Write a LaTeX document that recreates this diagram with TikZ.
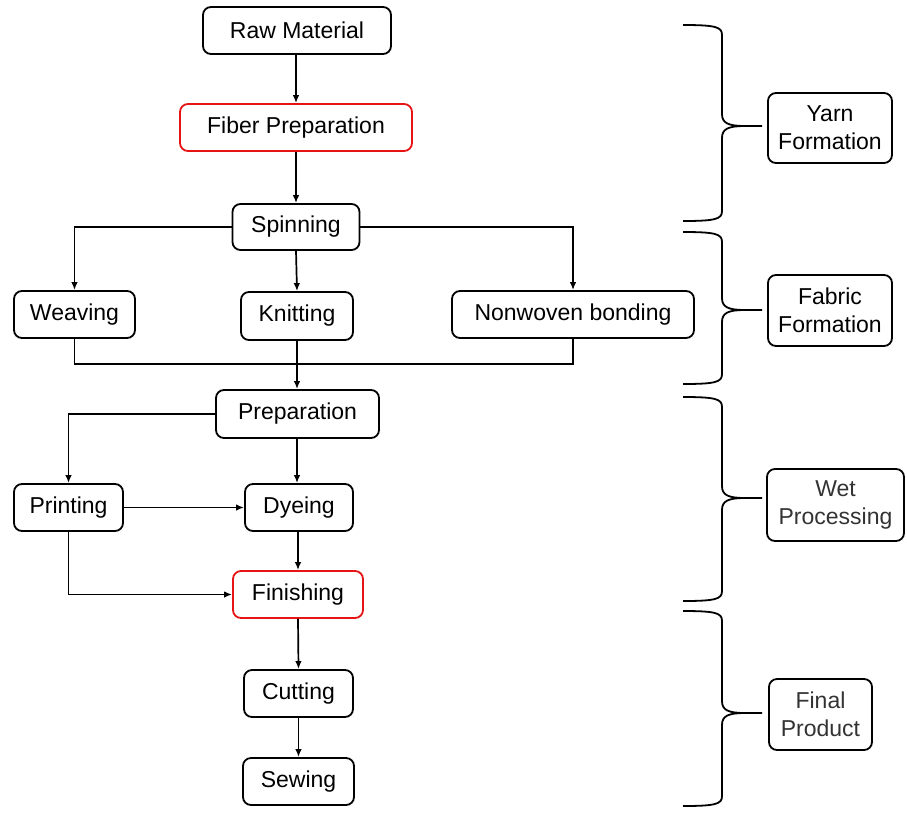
\documentclass[tikz,border=0pt]{standalone}
\usepackage{fontspec}
\setmainfont{Liberation Sans}
\usetikzlibrary{arrows.meta}
\definecolor{boxred}{RGB}{230,20,20}
\definecolor{darktext}{RGB}{51,51,51}
\tikzset{
  box/.style={draw=black, line width=1.8pt, rounded corners=8pt, inner sep=0pt,
    font=\fontsize{23}{28}\selectfont, align=center},
  redbox/.style={box, draw=boxred},
  conn/.style={line width=1.7pt, -{Latex[length=8pt,width=6.5pt]}},
  plain/.style={line width=1.7pt},
  brace/.style={line width=1.8pt}
}
\begin{document}
\begin{tikzpicture}[x=1pt,y=-1pt]
\useasboundingbox (0,0) rectangle (907,815);
% left column nodes
\node[box, minimum width=188pt, minimum height=47pt] (raw) at (297,30.5) {Raw Material};
\node[redbox, minimum width=232pt, minimum height=47pt] (fiber) at (296,127.5) {Fiber Preparation};
\node[box, minimum width=127pt, minimum height=46pt] (spin) at (296,227) {Spinning};
\node[box, minimum width=121pt, minimum height=47pt] (weave) at (74.5,314.5) {Weaving};
\node[box, minimum width=112pt, minimum height=48pt] (knit) at (297,316) {Knitting};
\node[box, minimum width=242pt, minimum height=47pt] (nonw) at (573,314.5) {Nonwoven bonding};
\node[box, minimum width=163pt, minimum height=48pt] (prep) at (297.5,414) {Preparation};
\node[box, minimum width=109pt, minimum height=47pt] (print) at (68.5,507.5) {Printing};
\node[box, minimum width=108pt, minimum height=47pt] (dye) at (299,507.5) {Dyeing};
\node[redbox, minimum width=130pt, minimum height=47pt] (finish) at (298,594.5) {Finishing};
\node[box, minimum width=109pt, minimum height=47pt] (cut) at (298.5,693.5) {Cutting};
\node[box, minimum width=111pt, minimum height=47pt] (sew) at (298.5,781.5) {Sewing};
% right column labels
\node[box, minimum width=124pt, minimum height=70pt] (yarn) at (830,128) {Yarn\\Formation};
\node[box, minimum width=124pt, minimum height=71pt] (fabric) at (830,310.5) {Fabric\\Formation};
\node[box, minimum width=137pt, minimum height=72pt, text=darktext] (wet) at (835.5,505) {Wet\\Processing};
\node[box, minimum width=103pt, minimum height=71pt, text=darktext] (final) at (820.5,714.5) {Final\\Product};
% connectors
\draw[conn] (raw.south -| 296,0) -- (fiber.north -| 296,0);
\draw[conn] (fiber.south -| 296,0) -- (spin.north -| 296,0);
\draw[conn] (spin.west) -| (weave.north);
\draw[conn] (spin.south) -- (knit.north);
\draw[conn] (spin.east) -| (nonw.north);
\coordinate (mj) at (297,364);
\draw[plain] (weave.south) |- (mj);
\draw[plain] (nonw.south) |- (mj);
\draw[conn] (knit.south) -- (prep.north -| knit.south);
\draw[conn] (prep.west) -| (print.north);
\draw[conn] (prep.south -| 297,0) -- (dye.north -| 297,0);
\draw[conn] (print.east) -- (dye.west);
\draw[conn] (dye.south -| 298,0) -- (finish.north -| 298,0);
\draw[conn] (print.south) |- (finish.west);
\draw[conn] (finish.south) -- (cut.north);
\draw[conn] (cut.south) -- (sew.north);
% braces
\foreach \T/\B/\M/\lab in {25/221/126/yarn, 232/384/310/fabric, 397/601/498/wet, 611/806/713/final}{
  \coordinate (tip-\lab) at (762,\M);
  \draw[brace] (683,\T) .. controls (716,\T) and (722,\T+2) .. (722,\T+10)
    -- (722,\M-12) .. controls (722,\M-3) and (728,\M) .. (745,\M) -- (tip-\lab);
  \draw[brace] (745,\M) .. controls (728,\M) and (722,\M+3) .. (722,\M+12)
    -- (722,\B-10) .. controls (722,\B-2) and (716,\B) .. (683,\B);
}
\end{tikzpicture}
\end{document}
